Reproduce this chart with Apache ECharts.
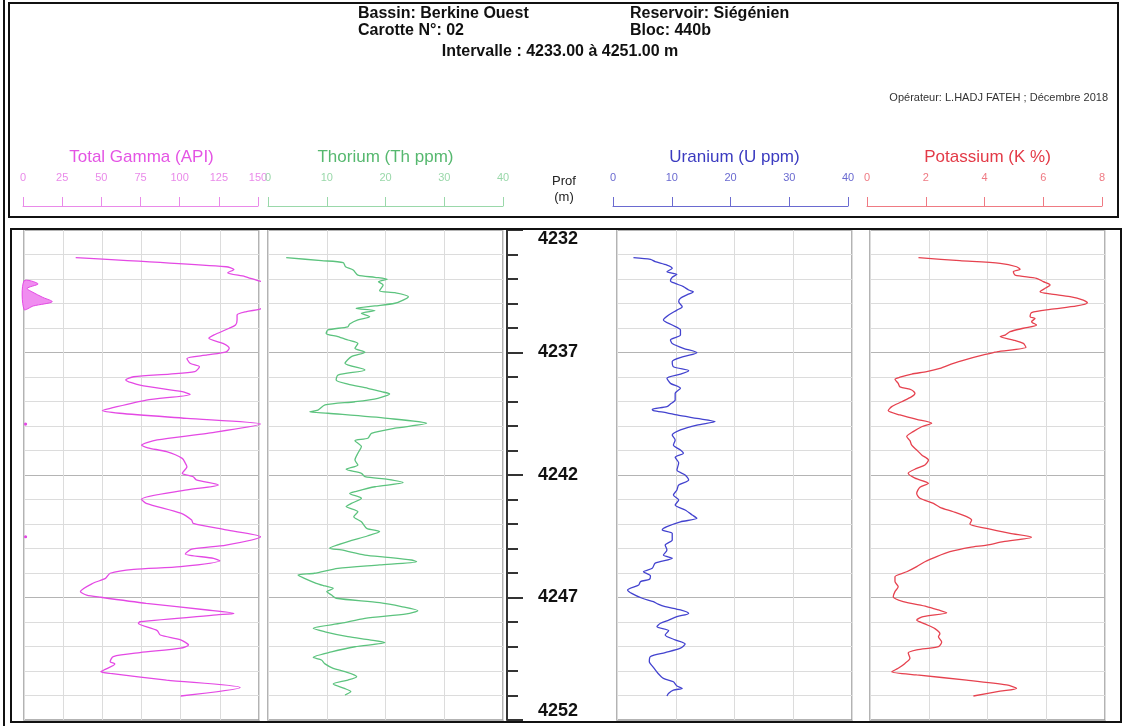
<!DOCTYPE html>
<html>
<head>
<meta charset="utf-8">
<script src="https://cdn.jsdelivr.net/npm/echarts@6/dist/echarts.min.js"></script>
<style>
  html, body { margin: 0; padding: 0; background: #ffffff; }
  #chart { width: 1124px; height: 726px; }
</style>
</head>
<body>
<div id="chart"></div>
<script>
// ---- Core log readings (depth in m) ----
const depthTop = 4232;
const depthBottom = 4252;

const gammaTicks = [0, 25, 50, 75, 100, 125, 150];
const thoriumTicks = [0, 10, 20, 30, 40];
const uraniumTicks = [0, 10, 20, 30, 40];
const potassiumTicks = [0, 2, 4, 6, 8];

const gammaDepth = [4233.13,4233.50,4233.61,4233.74,4233.90,4234.08,4234.20,4234.38,4234.52,4234.75,4234.93,4235.10,4235.24,4235.33,4235.47,4235.67,4235.88,4236.01,4236.29,4236.42,4236.63,4236.83,4236.97,4237.10,4237.24,4237.44,4237.58,4237.78,4237.88,4237.99,4238.12,4238.33,4238.60,4238.71,4238.94,4239.28,4239.37,4239.48,4239.69,4239.92,4240.30,4240.57,4240.78,4240.89,4241.05,4241.32,4241.52,4241.66,4241.93,4242.07,4242.20,4242.41,4242.61,4242.99,4243.16,4243.56,4243.84,4243.97,4244.24,4244.52,4244.86,4245.03,4245.22,4245.40,4245.50,4245.74,4245.85,4246.01,4246.22,4246.42,4246.76,4246.90,4246.99,4247.24,4247.51,4247.65,4247.71,4247.99,4248.05,4248.35,4248.53,4248.73,4248.94,4249.07,4249.25,4249.41,4249.62,4249.71,4249.96,4250.03,4250.10,4250.37,4250.67,4251.02];
const gammaApi = [33,129,134,130,141,150,159,152,155,162,168,156,150,142,136,136,135,131,121,118,127,131,129,117,104,106,112,109,93,70,65,74,101,106,78,55,50,61,104,151,117,85,75,79,91,101,103,104,101,108,110,124,104,75,78,100,107,108,129,151,129,107,103,121,125,100,70,55,52,44,36,40,49,78,117,134,123,74,73,85,87,100,105,100,74,57,55,58,51,49,55,91,138,100];

const thoriumDepth = [4233.13,4233.25,4233.33,4233.50,4233.63,4233.84,4233.93,4234.01,4234.11,4234.24,4234.48,4234.56,4234.72,4234.86,4234.99,4235.10,4235.20,4235.29,4235.40,4235.54,4235.67,4235.84,4235.95,4236.08,4236.22,4236.35,4236.49,4236.63,4236.83,4236.99,4237.17,4237.44,4237.71,4237.92,4238.12,4238.29,4238.46,4238.60,4238.69,4238.87,4239.01,4239.14,4239.35,4239.42,4239.48,4239.69,4239.89,4240.09,4240.30,4240.50,4240.60,4240.84,4241.11,4241.39,4241.59,4241.77,4241.93,4242.07,4242.18,4242.31,4242.48,4242.68,4242.75,4242.95,4243.16,4243.29,4243.50,4243.70,4243.91,4244.18,4244.31,4244.49,4244.72,4244.99,4245.06,4245.27,4245.36,4245.47,4245.54,4245.67,4245.81,4246.01,4246.08,4246.22,4246.42,4246.53,4246.63,4246.76,4246.90,4247.03,4247.21,4247.37,4247.54,4247.67,4247.85,4248.05,4248.26,4248.40,4248.60,4248.73,4248.84,4249.01,4249.22,4249.44,4249.55,4249.71,4249.89,4250.03,4250.23,4250.37,4250.53,4250.71,4250.84,4250.98];
const thoriumPpm = [3.1,9.1,12.8,13.2,14.5,15.3,18.2,20.3,18.8,19.6,19.0,21.6,23.9,23.0,21.6,18.2,15.0,18.2,15.9,17.3,15.3,13.9,13.6,10.2,9.9,11.9,13.6,15.3,14.8,16.5,14.2,13.1,16.5,11.9,11.6,13.6,17.0,19.3,20.7,18.7,14.8,9.7,8.5,7.1,10.2,20.4,27.0,21.6,17.6,17.0,14.8,15.9,15.3,14.8,15.3,13.3,15.9,16.5,20.4,23.0,18.2,14.8,13.9,15.9,14.2,13.3,15.3,14.6,15.9,16.8,19.0,16.9,13.6,10.5,12.5,16.5,20.4,24.4,25.3,19.0,11.9,7.9,5.1,6.2,8.2,9.7,11.1,10.0,10.8,11.6,19.0,22.7,25.5,23.6,16.5,12.5,7.7,9.7,13.6,17.3,19.9,14.8,10.8,7.7,9.1,9.7,11.1,13.1,15.1,13.6,11.1,13.0,14.1,13.1];

const uraniumDepth = [4233.13,4233.20,4233.29,4233.43,4233.56,4233.70,4233.81,4233.93,4234.08,4234.18,4234.31,4234.45,4234.52,4234.65,4234.79,4234.93,4235.13,4235.27,4235.47,4235.67,4235.88,4236.08,4236.29,4236.49,4236.63,4236.83,4237.01,4237.17,4237.37,4237.58,4237.74,4237.88,4238.05,4238.26,4238.46,4238.67,4238.94,4239.10,4239.21,4239.32,4239.37,4239.46,4239.55,4239.69,4239.82,4239.96,4240.16,4240.37,4240.57,4240.78,4240.98,4241.11,4241.28,4241.50,4241.80,4242.00,4242.20,4242.41,4242.61,4242.82,4243.02,4243.22,4243.43,4243.63,4243.77,4243.91,4244.11,4244.24,4244.38,4244.65,4244.86,4245.06,4245.27,4245.40,4245.60,4245.81,4245.95,4246.12,4246.26,4246.35,4246.49,4246.69,4246.83,4247.03,4247.17,4247.27,4247.37,4247.51,4247.65,4247.78,4247.92,4248.05,4248.19,4248.35,4248.53,4248.73,4248.90,4249.07,4249.25,4249.41,4249.62,4249.85,4250.10,4250.30,4250.44,4250.61,4250.71,4250.78,4250.91,4251.02];
const uraniumPpm = [2.8,5.7,6.5,8.5,9.4,8.5,10.2,9.4,9.1,9.9,11.3,12.2,13.0,11.9,10.8,10.5,11.1,10.2,8.8,7.9,9.4,10.8,10.8,9.1,9.4,11.3,13.6,11.3,9.4,9.6,12.2,10.8,8.5,9.1,10.8,9.9,9.9,9.1,8.5,6.0,6.2,8.5,10.2,13.6,16.7,13.6,10.8,9.4,9.9,9.6,10.8,11.3,9.9,10.5,10.2,11.6,12.2,10.5,10.2,9.6,10.5,9.9,11.6,12.8,13.6,10.8,8.5,7.7,9.4,9.4,8.2,8.5,7.9,9.4,6.5,6.0,4.5,5.7,5.5,4.0,3.7,1.8,2.5,4.3,6.2,7.0,8.2,10.8,12.2,10.2,8.8,7.4,6.8,8.8,8.2,9.9,11.6,10.8,8.2,5.7,5.5,6.2,7.0,7.9,9.6,10.2,11.1,9.6,8.8,8.5];

const potassiumDepth = [4233.13,4233.25,4233.36,4233.50,4233.61,4233.70,4233.84,4233.97,4234.11,4234.24,4234.38,4234.52,4234.61,4234.72,4234.86,4234.97,4235.10,4235.24,4235.37,4235.54,4235.61,4235.74,4235.88,4236.01,4236.15,4236.29,4236.35,4236.49,4236.63,4236.79,4236.97,4237.10,4237.28,4237.44,4237.65,4237.78,4237.88,4238.01,4238.09,4238.26,4238.40,4238.53,4238.67,4238.80,4239.01,4239.21,4239.37,4239.55,4239.73,4239.89,4240.03,4240.23,4240.43,4240.60,4240.78,4240.98,4241.18,4241.39,4241.59,4241.73,4241.93,4242.13,4242.34,4242.50,4242.75,4242.95,4243.16,4243.32,4243.50,4243.70,4243.84,4244.00,4244.18,4244.38,4244.54,4244.72,4244.86,4244.95,4245.13,4245.33,4245.54,4245.74,4245.95,4246.15,4246.35,4246.56,4246.76,4246.97,4247.17,4247.37,4247.51,4247.62,4247.78,4247.92,4248.08,4248.27,4248.48,4248.60,4248.82,4249.01,4249.14,4249.27,4249.48,4249.69,4249.89,4250.03,4250.16,4250.37,4250.57,4250.71,4250.82,4251.02];
const potassiumPct = [1.65,3.06,4.43,4.99,5.11,4.88,4.94,5.67,5.90,6.13,5.96,5.79,6.13,6.81,7.26,7.40,7.04,6.13,5.50,5.45,5.62,5.50,5.67,5.22,4.77,4.60,4.43,4.88,5.22,5.31,4.31,3.86,3.29,2.84,2.38,1.93,1.42,1.02,0.85,0.96,1.02,1.42,1.53,1.42,1.08,0.74,0.62,1.02,1.59,2.10,1.76,1.47,1.25,1.36,1.42,1.59,1.76,1.99,1.87,1.59,1.30,1.53,1.99,1.70,1.59,1.70,2.16,2.38,2.84,3.29,3.46,3.40,3.97,4.77,5.50,4.54,3.97,3.40,2.72,2.27,1.87,1.59,1.25,0.85,0.85,0.96,0.85,0.79,1.13,1.93,2.33,2.61,1.81,1.59,1.87,2.21,2.38,2.33,2.44,2.33,1.59,1.30,1.36,1.19,0.96,0.74,1.59,3.29,4.65,4.99,4.43,3.52];

// ---- Layout ----
const FONT = "'Liberation Sans', Arial, sans-serif";
const PLOT_TOP = 230;
const PLOT_H = 490;
const TRACK_W = 235;

const tracks = [
  { title: 'Total Gamma (API)', depth: gammaDepth, values: gammaApi, ticks: gammaTicks,
    left: 24, scaleLeft: 23, line: '#e449e4', text: '#e454e4', scale: '#e98ae9' },
  { title: 'Thorium (Th ppm)', depth: thoriumDepth, values: thoriumPpm, ticks: thoriumTicks,
    left: 268, scaleLeft: 268, line: '#5cc37e', text: '#56b86f', scale: '#9ad8aa' },
  { title: 'Uranium (U ppm)', depth: uraniumDepth, values: uraniumPpm, ticks: uraniumTicks,
    left: 617, scaleLeft: 613, line: '#4343cf', text: '#3b3bc0', scale: '#6a6ad0' },
  { title: 'Potassium (K %)', depth: potassiumDepth, values: potassiumPct, ticks: potassiumTicks,
    left: 870, scaleLeft: 867, line: '#e6424f', text: '#e33a47', scale: '#ef7a83' }
];

const grids = [];
const xAxes = [];
const yAxes = [];
const series = [];

const minorGrey = '#dcdcdc';
const majorGrey = '#b4b4b4';

tracks.forEach((t, i) => {
  const lo = t.ticks[0];
  const hi = t.ticks[t.ticks.length - 1];
  const step = t.ticks[1] - t.ticks[0];
  grids.push({ left: t.left, top: PLOT_TOP, width: TRACK_W, height: PLOT_H,
    show: true, borderColor: '#9a9a9a', borderWidth: 1.5, backgroundColor: 'transparent' });
  xAxes.push({ gridIndex: i, type: 'value', min: lo, max: hi, interval: step,
    axisLine: { show: false }, axisTick: { show: false }, axisLabel: { show: false },
    splitLine: { show: true, lineStyle: { color: minorGrey, width: 1 } } });
  yAxes.push({ gridIndex: i, type: 'value', inverse: true, min: depthTop, max: depthBottom, interval: 1,
    axisLine: { show: false }, axisTick: { show: false }, axisLabel: { show: false },
    splitLine: { show: true, lineStyle: { color: [majorGrey, minorGrey, minorGrey, minorGrey, minorGrey], width: 1 } } });
  series.push({
    type: 'line', xAxisIndex: i, yAxisIndex: i,
    data: t.depth.map((d, k) => [t.values[k], d]),
    showSymbol: false, smooth: 0.25, clip: true,
    lineStyle: { color: t.line, width: 1.3 }, z: 3
  });
});

// Depth column
const depthGrid = grids.length;
grids.push({ left: 507, top: PLOT_TOP, width: 110, height: PLOT_H, show: false });
xAxes.push({ gridIndex: depthGrid, type: 'value', min: 0, max: 1, show: false });
yAxes.push({ gridIndex: depthGrid, type: 'value', inverse: true, min: depthTop, max: depthBottom, interval: 5,
  position: 'left',
  axisLine: { show: true, lineStyle: { color: '#333', width: 2 } },
  axisTick: { show: true, inside: true, length: 16, lineStyle: { color: '#333', width: 2 } },
  minorTick: { show: true, splitNumber: 5, length: 11, lineStyle: { color: '#333', width: 2 } },
  axisLabel: { show: true, inside: true, margin: 31, fontFamily: FONT, fontSize: 18, fontWeight: 'bold', color: '#111',
    formatter: v => String(v),
    verticalAlignMinLabel: 'top', verticalAlignMaxLabel: 'bottom' },
  splitLine: { show: false } });

// Scale bars in the header
tracks.forEach((t, i) => {
  const gi = grids.length;
  const lo = t.ticks[0];
  const hi = t.ticks[t.ticks.length - 1];
  grids.push({ left: t.scaleLeft, top: 205, width: TRACK_W, height: 1, show: false });
  xAxes.push({ gridIndex: gi, type: 'value', position: 'top', min: lo, max: hi, interval: t.ticks[1] - t.ticks[0],
    axisLine: { show: true, lineStyle: { color: t.scale, width: 1 } },
    axisTick: { show: true, inside: false, length: 9, lineStyle: { color: t.scale, width: 1 } },
    axisLabel: { show: true, margin: 22, fontFamily: FONT, fontSize: 11, color: t.scale },
    splitLine: { show: false } });
  yAxes.push({ gridIndex: gi, type: 'value', show: false });
});

// Gamma excursions beyond full scale wrap back from the left edge, filled
const gammaMax = gammaTicks[gammaTicks.length - 1];
series.push({
  type: 'custom', xAxisIndex: 0, yAxisIndex: 0, coordinateSystem: 'cartesian2d',
  data: [[0, depthTop]], z: 4, silent: true,
  renderItem: function (params, api) {
    const children = [];
    let run = [];
    const flush = () => {
      if (run.length === 1) {
        children.push({ type: 'circle', shape: { cx: run[0][0], cy: run[0][1], r: 1.6 },
          style: { fill: '#e449e4' } });
      } else if (run.length > 1) {
        children.push({ type: 'polygon', shape: { points: run.slice(), smooth: 0.3 },
          style: { fill: '#f08df0', stroke: '#e449e4', lineWidth: 1 } });
      }
      run = [];
    };
    for (let k = 0; k < gammaApi.length; k++) {
      if (gammaApi[k] >= gammaMax) {
        run.push(api.coord([gammaApi[k] - gammaMax, gammaDepth[k]]));
      } else {
        flush();
      }
    }
    flush();
    return { type: 'group', children: children };
  }
});

// Header texts and frames
const bold16 = 'bold 16px ' + FONT;
const graphic = [
  { type: 'line', shape: { x1: 4, y1: 0, x2: 4, y2: 726 }, style: { stroke: '#111', lineWidth: 2 } },
  { type: 'rect', shape: { x: 9, y: 3, width: 1109, height: 214 }, style: { fill: 'none', stroke: '#111', lineWidth: 2 } },
  { type: 'rect', shape: { x: 11, y: 229, width: 1110, height: 493 }, style: { fill: 'none', stroke: '#111', lineWidth: 2 }, z: 10 },
  { type: 'text', x: 358, y: 14, style: { text: 'Bassin: Berkine Ouest', font: bold16, fill: '#111', align: 'left', verticalAlign: 'middle' } },
  { type: 'text', x: 630, y: 14, style: { text: 'Reservoir: Siégénien', font: bold16, fill: '#111', align: 'left', verticalAlign: 'middle' } },
  { type: 'text', x: 358, y: 31, style: { text: 'Carotte N°: 02', font: bold16, fill: '#111', align: 'left', verticalAlign: 'middle' } },
  { type: 'text', x: 630, y: 31, style: { text: 'Bloc: 440b', font: bold16, fill: '#111', align: 'left', verticalAlign: 'middle' } },
  { type: 'text', x: 560, y: 52, style: { text: 'Intervalle : 4233.00 à 4251.00 m', font: bold16, fill: '#111', align: 'center', verticalAlign: 'middle' } },
  { type: 'text', x: 1108, y: 98, style: { text: 'Opérateur: L.HADJ FATEH ; Décembre 2018', font: '11px ' + FONT, fill: '#333', align: 'right', verticalAlign: 'middle' } },
  { type: 'text', x: 564, y: 181, style: { text: 'Prof', font: '13px ' + FONT, fill: '#222', align: 'center', verticalAlign: 'middle' } },
  { type: 'text', x: 564, y: 197, style: { text: '(m)', font: '13px ' + FONT, fill: '#222', align: 'center', verticalAlign: 'middle' } }
];
tracks.forEach(t => {
  graphic.push({ type: 'text', x: t.left + TRACK_W / 2, y: 157,
    style: { text: t.title, font: '17px ' + FONT, fill: t.text, align: 'center', verticalAlign: 'middle' } });
});

const chart = echarts.init(document.getElementById('chart'), null, { renderer: 'canvas' });
chart.setOption({
  animation: false,
  backgroundColor: '#ffffff',
  grid: grids,
  xAxis: xAxes,
  yAxis: yAxes,
  series: series,
  graphic: graphic
});
</script>
</body>
</html>
